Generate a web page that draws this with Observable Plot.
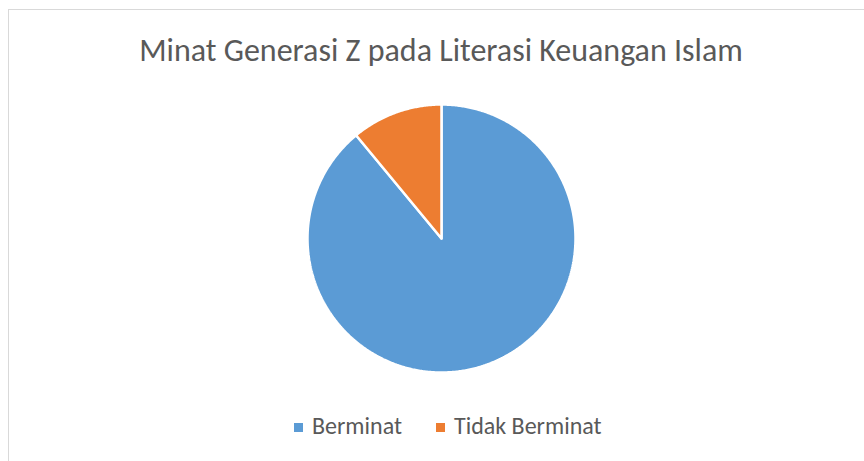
<!DOCTYPE html>
<html>
<head>
<meta charset="utf-8">
<script src="https://cdn.jsdelivr.net/npm/d3@7"></script>
<script src="https://cdn.jsdelivr.net/npm/@observablehq/plot@0.6"></script>
<style>
  html, body { margin: 0; padding: 0; background: #fff; width: 864px; height: 461px; overflow: hidden; }
  body { position: relative; font-family: Carlito, "Open Sans", "Noto Sans", sans-serif; color: #595959; }
  #frame { position: absolute; left: 8px; top: 9px; width: 900px; height: 500px; border-left: 1px solid #d9d9d9; border-top: 1px solid #d9d9d9; }
  #title { position: absolute; left: 0; width: 882px; top: 31px; text-align: center; font-size: 32px; line-height: normal; white-space: nowrap; }
  #chart { position: absolute; left: 0; top: 100px; }
  #legend { position: absolute; left: 294px; top: 411px; font-size: 24px; line-height: normal; white-space: nowrap; }
  .item { display: inline-block; margin-right: 34px; }
  .sw { display: inline-block; width: 9px; height: 9px; margin-right: 9px; vertical-align: middle; position: relative; top: -1px; }
</style>
</head>
<body>
<div id="frame"></div>
<div id="title">Minat Generasi Z pada Literasi Keuangan Islam</div>
<div id="chart"></div>
<div id="legend"></div>
<script>
const categories = ["Berminat", "Tidak Berminat"];
const values = [89, 11];
const colors = ["#5B9BD5", "#ED7D31"];

const total = d3.sum(values);
const pts = [];
let start = 0;
categories.forEach((c, i) => {
  const a0 = start / total * 2 * Math.PI;
  const a1 = (start + values[i]) / total * 2 * Math.PI;
  start += values[i];
  const n = Math.max(2, Math.ceil((a1 - a0) / (Math.PI / 360)));
  pts.push({category: c, x: 0, y: 0});
  for (let k = 0; k <= n; k++) {
    const a = a0 + (a1 - a0) * k / n;
    pts.push({category: c, x: Math.sin(a), y: Math.cos(a)});
  }
  pts.push({category: c, x: 0, y: 0});
});

const R = 134, cx = 441, cy = 138; // cy relative to svg top
const chart = Plot.plot({
  width: 864,
  height: 276,
  marginLeft: cx - R,
  marginRight: 864 - cx - R,
  marginTop: cy - R,
  marginBottom: 276 - cy - R,
  x: {domain: [-1, 1], axis: null},
  y: {domain: [-1, 1], axis: null},
  color: {domain: categories, range: colors},
  marks: [
    Plot.line(pts, {x: "x", y: "y", z: "category", fill: "category", stroke: "white", strokeWidth: 2.5, strokeLinejoin: "miter", curve: "linear"})
  ]
});
document.getElementById("chart").appendChild(chart);

const legend = document.getElementById("legend");
categories.forEach((c, i) => {
  const item = document.createElement("span");
  item.className = "item";
  item.innerHTML = `<span class="sw" style="background:${colors[i]}"></span>${c}`;
  legend.appendChild(item);
});
</script>
</body>
</html>
